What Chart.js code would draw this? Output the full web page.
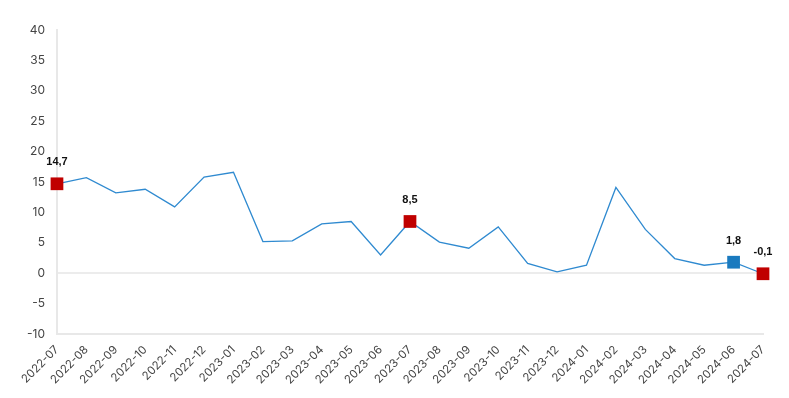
<!DOCTYPE html>
<html>
<head>
<meta charset="utf-8">
<script src="https://cdn.jsdelivr.net/npm/chart.js@4/dist/chart.umd.min.js"></script>
<style>
  html, body { margin: 0; padding: 0; background: #fff; }
  #wrap { width: 789px; height: 398px; }
</style>
</head>
<body>
<div id="wrap"><canvas id="rateChart"></canvas></div>
<script>
// monthly values
const months = ['2022-07', '2022-08', '2022-09', '2022-10', '2022-11', '2022-12', '2023-01', '2023-02', '2023-03',
  '2023-04', '2023-05', '2023-06', '2023-07', '2023-08', '2023-09', '2023-10', '2023-11', '2023-12',
  '2024-01', '2024-02', '2024-03', '2024-04', '2024-05', '2024-06', '2024-07'];
const rates = [14.7, 15.7, 13.2, 13.8, 10.9, 15.8, 16.6, 5.2, 5.3, 8.1, 8.5, 3.0, 8.5, 5.1, 4.1, 7.6, 1.6, 0.2,
  1.3, 14.1, 7.2, 2.4, 1.3, 1.8, -0.1];
// highlighted months and their marker colour
const markedMonths = ['2022-07', '2023-07', '2024-06', '2024-07'];
const markColors = ['#c00000', '#c00000', '#1a7abf', '#c00000'];
const yTicks = [-10, 40, 5];

const lineColor = '#2f8ad0';

const ptRadius = months.map(m => markedMonths.includes(m) ? 9 : 0);
const ptColor = months.map(m => {
  const i = markedMonths.indexOf(m);
  return i >= 0 ? markColors[i] : lineColor;
});

// small plugin for the value labels above the marked points
const markLabels = {
  id: 'markLabels',
  afterDatasetsDraw(chart) {
    const ctx = chart.ctx;
    const meta = chart.getDatasetMeta(0);
    ctx.save();
    ctx.font = 'bold 11px "Liberation Sans", Arial';
    ctx.fillStyle = '#111';
    ctx.textAlign = 'center';
    ctx.textBaseline = 'bottom';
    markedMonths.forEach(m => {
      const i = months.indexOf(m);
      const pt = meta.data[i];
      const txt = rates[i].toFixed(1).replace('.', ',');
      ctx.fillText(txt, pt.x, pt.y - 16);
    });
    ctx.restore();
  }
};

const ctx = document.getElementById('rateChart').getContext('2d');

const rateChart = new Chart(ctx, {
  type: 'line',
  data: {
    labels: months,
    datasets: [{
      data: rates,
      borderColor: lineColor,
      borderWidth: 1.3,
      tension: 0,
      pointStyle: 'rect',
      pointRadius: ptRadius,
      pointHoverRadius: ptRadius,
      pointBackgroundColor: ptColor,
      pointBorderColor: ptColor,
      pointBorderWidth: 0
    }]
  },
  options: {
    responsive: true,
    maintainAspectRatio: false,
    animation: false,
    layout: { padding: { top: 30, right: 26, left: 15, bottom: 2 } },
    plugins: {
      legend: { display: false },
      tooltip: { enabled: false }
    },
    scales: {
      x: {
        offset: false,
        grid: { display: false, drawTicks: false },
        border: { display: true, color: '#e8e8e8', width: 2 },
        ticks: {
          minRotation: 45,
          maxRotation: 45,
          color: '#444',
          padding: 9,
          font: { family: 'Inter, "Liberation Sans", Arial', size: 11.5 }
        }
      },
      y: {
        min: yTicks[0],
        max: yTicks[1],
        grid: {
          drawTicks: false,
          lineWidth: 2,
          color: c => c.tick && c.tick.value === 0 ? '#ececec' : 'rgba(0,0,0,0)'
        },
        border: { display: true, color: '#e8e8e8', width: 2 },
        ticks: {
          stepSize: yTicks[2],
          color: '#444',
          padding: 12,
          font: { family: 'Inter, "Liberation Sans", Arial', size: 12 }
        }
      }
    }
  },
  plugins: [markLabels]
});
</script>
</body>
</html>
